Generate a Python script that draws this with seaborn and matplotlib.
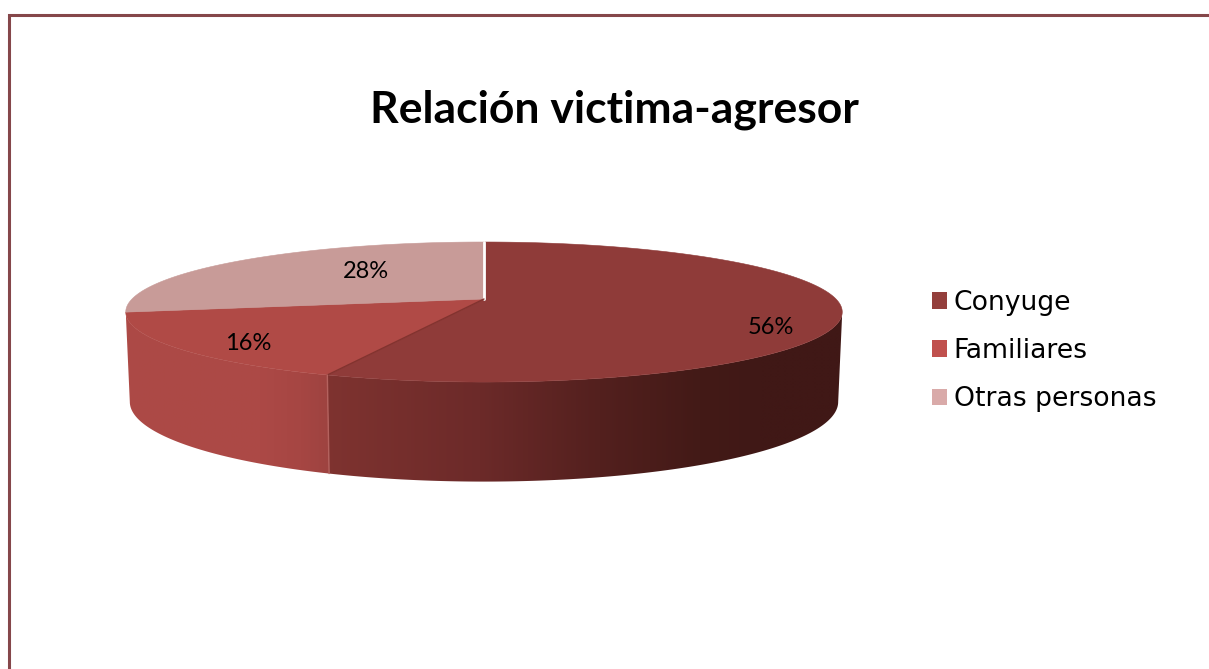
import numpy as np
import matplotlib
matplotlib.use("Agg")
import matplotlib.pyplot as plt
from matplotlib.patches import Patch, Polygon
import seaborn as sns

categories = ["Conyuge", "Familiares", "Otras personas"]
values = [56, 16, 28]
labels = ["56%", "16%", "28%"]
title = "Relación victima-agresor"

top_colors = ["#8f3b39", "#b04a46", "#c89b98"]
legend_colors = ["#943f3c", "#c0504d", "#d9aaa9"]
label_xy = [(771, 327), (248, 343), (366, 271)]

sns.set_theme(style="white")
plt.rcParams["font.family"] = ["Lato", "DejaVu Sans"]

fig = plt.figure(figsize=(12.09, 6.69), dpi=100)
ax = fig.add_axes([0, 0, 1, 1])
ax.axis("off")

CX, K = 484, 0.186
SILHOUETTE = np.degrees(np.arccos(-K))


def project(theta_deg, r, half_w, y0, half_h):
    t = np.radians(theta_deg)
    u, v = r * np.sin(t), r * np.cos(t)
    d = 1 + K * v
    return CX + half_w * u / d, y0 - half_h * v / d


def top(t, r=1.0):
    return project(t, r, 352, 299, 67.6)


def bottom(t):
    return project(t, 1.0, 348, 387, 77)


edges = np.concatenate([[0], np.cumsum(values)]) * 360 / sum(values)

# frame
ax.plot([9, 9, 1209], [669, 14.5, 14.5], color="#85474a", lw=2.2, solid_joinstyle="miter", zorder=1)

side_stops = [
    ([325, 480, 600, 700, 760], ["#7f3330", "#6c2a29", "#53201e", "#431a17", "#401816"]),
    ([130, 260, 300, 328], ["#ad4a46", "#ac4946", "#a64643", "#9e4340"]),
]

for i in range(2):
    lo, hi = max(edges[i], SILHOUETTE), min(edges[i + 1], 360 - SILHOUETTE)
    ts = np.linspace(lo, hi, 241)
    xt, yt = top(ts)
    xb, yb = bottom(ts)
    outline = np.r_[np.c_[xt, yt], np.c_[xb, yb][::-1]]
    x0, x1 = outline[:, 0].min(), outline[:, 0].max()
    y0, y1 = outline[:, 1].min(), outline[:, 1].max()
    grid = np.linspace(x0, x1, 500)
    xs, cs = side_stops[i]
    rgb = np.array([matplotlib.colors.to_rgb(c) for c in cs])
    img = np.stack([np.interp(grid, xs, rgb[:, c]) for c in range(3)], axis=-1)[None, :, :]
    im = ax.imshow(img, extent=(x0, x1, y1, y0), aspect="auto", interpolation="bilinear", zorder=2)
    poly = Polygon(outline, closed=True, transform=ax.transData, facecolor="none", edgecolor="none")
    ax.add_patch(poly)
    im.set_clip_path(poly)

ax.set_xlim(0, 1209)
ax.set_ylim(669, 0)

for i in range(3):
    ts = np.linspace(edges[i], edges[i + 1], 200)
    xt, yt = top(ts)
    cx0, cy0 = top(np.array([0.0]), 0.0)
    ax.fill(np.r_[cx0, xt], np.r_[cy0, yt], color=top_colors[i], lw=0.4, zorder=3)

# slice separations
cx0, cy0 = top(np.array([0.0]), 0.0)
x0, y0 = top(np.array([edges[0]]))
ax.plot([cx0[0], x0[0]], [cy0[0], y0[0]], color="white", lw=2, zorder=4)
x1, y1 = top(np.array([edges[1]]))
ax.plot([cx0[0], x1[0]], [cy0[0], y1[0]], color="#82332f", lw=1, zorder=4)
xb1, yb1 = bottom(np.array([edges[1]]))
ax.plot([x1[0], xb1[0]], [y1[0], yb1[0]], color="#b4625e", lw=1, zorder=4)

for lab, (x, y) in zip(labels, label_xy):
    ax.text(x, y, lab, ha="center", va="center", fontsize=17, color="black", zorder=5)

ax.text(614, 110, title, ha="center", va="center", fontsize=32, fontweight="bold", color="black")

handles = [Patch(facecolor=c, edgecolor="none") for c in legend_colors]
ax.legend(handles, categories, loc="center left", bbox_to_anchor=(932, 351),
          bbox_transform=ax.transData, frameon=False, labelcolor="black",
          prop={"family": "DejaVu Sans", "size": 19.2},
          handlelength=0.57, handleheight=0.57, handletextpad=0.24,
          labelspacing=0.83, borderpad=0, borderaxespad=0)

fig.savefig("out.png", dpi=100, facecolor="white")
